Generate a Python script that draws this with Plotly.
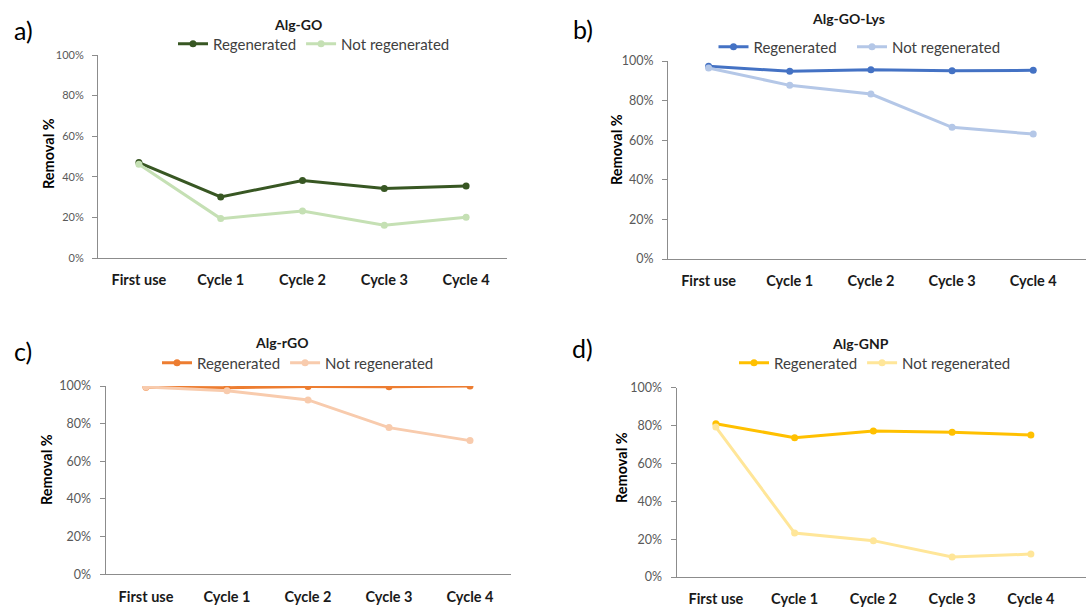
import plotly.graph_objects as go

categories = ["First use", "Cycle 1", "Cycle 2", "Cycle 3", "Cycle 4"]

algGO_regen = [47.0, 30.1, 38.2, 34.2, 35.5]
algGO_not = [46.2, 19.4, 23.2, 16.1, 20.1]
algGOLys_regen = [97.3, 94.8, 95.6, 95.1, 95.3]
algGOLys_not = [96.5, 87.7, 83.3, 66.5, 63.1]
algrGO_regen = [99.3, 99.1, 99.8, 99.6, 100.0]
algrGO_not = [99.5, 97.5, 92.6, 77.9, 71.0]
algGNP_regen = [81.0, 73.6, 77.1, 76.4, 75.0]
algGNP_not = [79.2, 23.2, 19.2, 10.6, 12.1]

titles = ["Alg-GO", "Alg-GO-Lys", "Alg-rGO", "Alg-GNP"]
letters = ["a)", "b)", "c)", "d)"]
series_names = ["Regenerated", "Not regenerated"]

W, H = 1086, 607
FONT = "Lato"

def px(x):
    return x / W

def py(y):
    return 1 - y / H

# legs: legend position(s); a single entry means both series share one legend
panels = [
    dict(reg=algGO_regen, nr=algGO_not, c1="#385723", c2="#C5E0B4",
         x0=98, x1=507, xr=[-0.5, 4.5], y0=258, y100=55, tick=11,
         title_xy=(298, 25), legs=[(314, 44)], letter_xy=(23, 30),
         ytitle_xy=(48, 154)),
    dict(reg=algGOLys_regen, nr=algGOLys_not, c1="#4472C4", c2="#B4C7E7",
         x0=668, x1=1086, xr=[-0.5, 4.65], y0=259, y100=61, tick=12.5,
         title_xy=(848, 18), legs=[(778, 47), (929, 47)], letter_xy=(583, 29),
         ytitle_xy=(616, 150)),
    dict(reg=algrGO_regen, nr=algrGO_not, c1="#ED7D31", c2="#F8CBAD",
         x0=105.5, x1=510.5, xr=[-0.5, 4.5], y0=574.3, y100=386, tick=12.5,
         title_xy=(282, 342), legs=[(298, 363)], letter_xy=(23, 351),
         ytitle_xy=(46, 470)),
    dict(reg=algGNP_regen, nr=algGNP_not, c1="#FFC000", c2="#FFE699",
         x0=676.5, x1=1086, xr=[-0.5, 4.7], y0=577, y100=387.7, tick=12.5,
         title_xy=(860, 343), legs=[(875, 363)], letter_xy=(582, 348),
         ytitle_xy=(621, 468)),
]

fig = go.Figure()
layout = {}
annotations = []
AXC = "#8C8C8C"
legend_count = 0

def legend_dict(x, y):
    return dict(
        orientation="h", x=px(x), y=py(y),
        xanchor="center", yanchor="middle", xref="paper", yref="paper",
        font=dict(family=FONT, size=15, color="#404040"),
        itemwidth=30, bgcolor="rgba(0,0,0,0)", tracegroupgap=0,
        itemclick=False, itemdoubleclick=False,
    )

for i, p in enumerate(panels):
    n = i + 1
    xa = "x" if n == 1 else f"x{n}"
    ya = "y" if n == 1 else f"y{n}"
    leg_ids = []
    for lx, ly in p["legs"]:
        legend_count += 1
        lid = "legend" if legend_count == 1 else f"legend{legend_count}"
        layout[lid] = legend_dict(lx, ly)
        leg_ids.append(lid)
    if len(leg_ids) == 1:
        leg_ids = leg_ids * 2
    for k, (name, vals, col) in enumerate([(series_names[0], p["reg"], p["c1"]),
                                           (series_names[1], p["nr"], p["c2"])]):
        fig.add_trace(go.Scatter(
            x=categories, y=vals, name=name, mode="lines+markers",
            line=dict(color=col, width=3),
            marker=dict(color=col, size=7),
            xaxis=xa, yaxis=ya, legend=leg_ids[k],
        ))
    xkey = "xaxis" if n == 1 else f"xaxis{n}"
    ykey = "yaxis" if n == 1 else f"yaxis{n}"
    layout[xkey] = dict(
        domain=[px(p["x0"]), px(p["x1"])], anchor=ya, type="category",
        range=p["xr"], showgrid=False, zeroline=False, showline=True,
        linecolor=AXC, linewidth=1, ticks="", ticklabelstandoff=9,
        tickfont=dict(family=FONT, size=14.5, color="#1a1a1a", weight="bold"),
        fixedrange=True, automargin=False,
    )
    layout[ykey] = dict(
        domain=[py(p["y0"]), py(p["y100"])], anchor=xa,
        range=[0, 100], dtick=20, tick0=0, ticksuffix="%",
        showgrid=False, zeroline=False, showline=True,
        linecolor=AXC, linewidth=1, ticks="outside", ticklen=5, tickcolor=AXC,
        ticklabelstandoff=6,
        tickfont=dict(family=FONT, size=p["tick"], color="#595959"),
        fixedrange=True, automargin=False,
    )
    annotations.append(dict(
        text=f"<b>{titles[i]}</b>", x=px(p["title_xy"][0]), y=py(p["title_xy"][1]),
        xref="paper", yref="paper", showarrow=False, xanchor="center", yanchor="middle",
        font=dict(family=FONT, size=14, color="#1a1a1a"),
    ))
    annotations.append(dict(
        text=letters[i], x=px(p["letter_xy"][0]), y=py(p["letter_xy"][1]),
        xref="paper", yref="paper", showarrow=False, xanchor="center", yanchor="middle",
        font=dict(family=FONT, size=25, color="#000000"),
    ))
    annotations.append(dict(
        text="<b>Removal %</b>", x=px(p["ytitle_xy"][0]), y=py(p["ytitle_xy"][1]),
        xref="paper", yref="paper", showarrow=False, xanchor="center", yanchor="middle",
        textangle=-90, font=dict(family=FONT, size=14.5, color="#000000"),
    ))

fig.update_layout(
    width=W, height=H, margin=dict(l=0, r=0, t=0, b=0, autoexpand=False),
    paper_bgcolor="white", plot_bgcolor="white",
    font=dict(family=FONT), showlegend=True,
    annotations=annotations, **layout,
)

fig.write_html("out.html", config={"displayModeBar": False})
